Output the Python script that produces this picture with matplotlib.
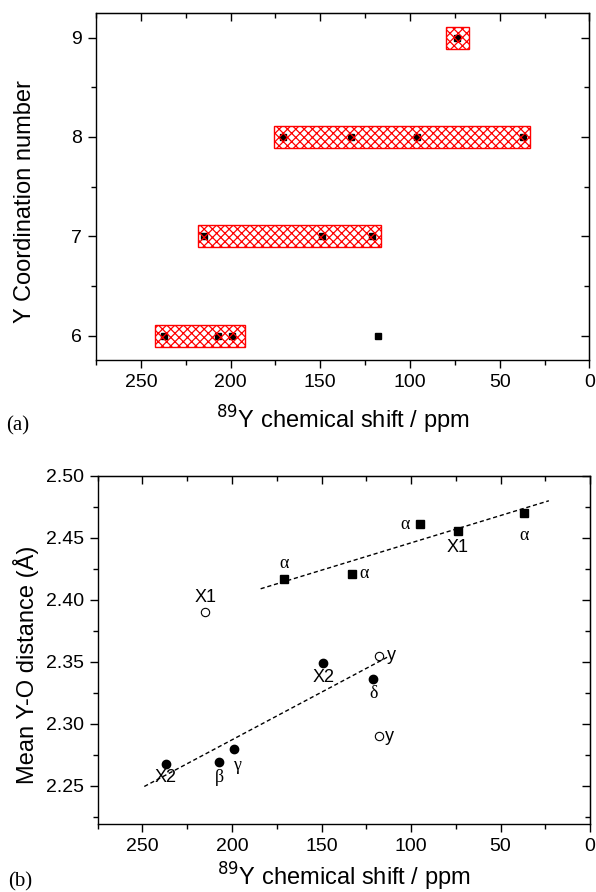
import numpy as np
import matplotlib
matplotlib.use('Agg')
import matplotlib.pyplot as plt
from matplotlib.patches import Rectangle
from matplotlib.ticker import MultipleLocator, FormatStrFormatter

plt.rcParams['font.family'] = ['Liberation Sans', 'DejaVu Sans']
plt.rcParams['hatch.color'] = 'red'
plt.rcParams['hatch.linewidth'] = 0.9

# (a) coordination number vs shift
cn6_x = [237, 207, 199, 118]
cn7_x = [215, 149, 121]
cn8_x = [171, 133, 96, 37]
cn9_x = [74]
range_cn = [6, 7, 8, 9]
range_lo = [242, 218, 176, 80]
range_hi = [192, 116, 33, 67]

# (b) mean Y-O distance vs shift
sq_x = [171, 133, 95, 74, 37]
sq_y = [2.417, 2.421, 2.461, 2.456, 2.470]
sq_lab = ['α', 'α', 'α', 'X1', 'α']
fc_x = [237, 207, 199, 149, 121]
fc_y = [2.268, 2.269, 2.280, 2.349, 2.336]
fc_lab = ['X2', 'β', 'γ', 'X2', 'δ']
oc_x = [215, 118, 118]
oc_y = [2.390, 2.355, 2.290]
oc_lab = ['X1', 'y', 'y']
fit_hi_x = [184, 23]
fit_hi_y = [2.409, 2.480]
fit_lo_x = [249, 113]
fit_lo_y = [2.2495, 2.354]

# label offsets in points
sq_off = [(0, 11), (9, 0), (-11, 0), (0, -12), (0, -16)]
fc_off = [(0, -10), (0, -11), (2, -12), (0, -10), (0, -10)]
oc_off = [(0, 11), (9, 0), (8, 0)]

fig = plt.figure(figsize=(5.96, 8.92), dpi=100)
ax1 = fig.add_axes([0.161, 0.5964, 0.828, 0.3887])
ax2 = fig.add_axes([0.164, 0.0759, 0.826, 0.3905])

xlab = r'$^{89}$Y chemical shift / ppm'


def style(ax, ymajor, yminor, lpad):
    ax.set_xlim(275, 0)
    ax.xaxis.set_major_locator(MultipleLocator(50))
    ax.xaxis.set_minor_locator(MultipleLocator(25))
    ax.yaxis.set_major_locator(MultipleLocator(ymajor))
    ax.yaxis.set_minor_locator(MultipleLocator(yminor))
    ax.tick_params(which='both', direction='out', width=1, labelsize=14, pad=4)
    ax.tick_params(which='major', length=6)
    ax.tick_params(which='minor', length=3.5)
    for s in ax.spines.values():
        s.set_linewidth(1)
    top = ax.secondary_xaxis('top')
    top.xaxis.set_major_locator(MultipleLocator(50))
    top.xaxis.set_minor_locator(MultipleLocator(25))
    top.tick_params(which='both', direction='in', width=1, labeltop=False)
    top.tick_params(which='major', length=6)
    top.tick_params(which='minor', length=3.5)
    right = ax.secondary_yaxis('right')
    right.yaxis.set_major_locator(MultipleLocator(ymajor))
    right.yaxis.set_minor_locator(MultipleLocator(yminor))
    right.tick_params(which='both', direction='in', width=1, labelright=False)
    right.tick_params(which='major', length=6)
    right.tick_params(which='minor', length=3.5)
    ax.set_xlabel(xlab, fontsize=17, labelpad=lpad)


# panel (a)
for xs, cn in zip([cn6_x, cn7_x, cn8_x, cn9_x], range_cn):
    ax1.plot(xs, [cn] * len(xs), 's', color='black', ms=5, zorder=2)
for cn, lo, hi in zip(range_cn, range_lo, range_hi):
    ax1.add_patch(Rectangle((hi, cn - 0.11), lo - hi, 0.22, facecolor='none',
                            edgecolor='red', hatch='xxxx', lw=1, zorder=3))
ax1.set_ylim(5.755, 9.245)
style(ax1, 1, 0.5, 9)
ax1.set_ylabel('Y Coordination number', fontsize=17)
ax1.yaxis.set_label_coords(-0.122, 0.457)

# panel (b)
ax2.plot(fit_hi_x, fit_hi_y, '--', color='black', lw=1, dashes=(3, 2))
ax2.plot(fit_lo_x, fit_lo_y, '--', color='black', lw=1, dashes=(3, 2))
ax2.plot(sq_x, sq_y, 's', color='black', ms=5.5)
ax2.plot(fc_x, fc_y, 'o', color='black', ms=6)
ax2.plot(oc_x, oc_y, 'o', mfc='white', mec='black', mew=0.8, ms=6)

greek = ['Liberation Serif', 'DejaVu Serif']
for xs, ys, labs, offs in [(sq_x, sq_y, sq_lab, sq_off),
                           (fc_x, fc_y, fc_lab, fc_off),
                           (oc_x, oc_y, oc_lab, oc_off)]:
    for x, y, t, o in zip(xs, ys, labs, offs):
        fam = greek if t in 'αβγδ' else ['Liberation Sans', 'DejaVu Sans']
        ax2.annotate(t, (x, y), xytext=o, textcoords='offset points',
                     ha='center', va='center', fontsize=13, family=fam)

ax2.set_ylim(2.219, 2.50)
style(ax2, 0.05, 0.025, 4)
ax2.yaxis.set_major_formatter(FormatStrFormatter('%.2f'))
ax2.set_ylabel('Mean Y-O distance (Å)', fontsize=17)
ax2.yaxis.set_label_coords(-0.12, 0.457)

fig.text(6 / 596, 1 - 430 / 892, '(a)', family=['Liberation Serif'], fontsize=15)
fig.text(8 / 596, 1 - 886 / 892, '(b)', family=['Liberation Serif'], fontsize=15)

fig.savefig('out.png', dpi=100)
